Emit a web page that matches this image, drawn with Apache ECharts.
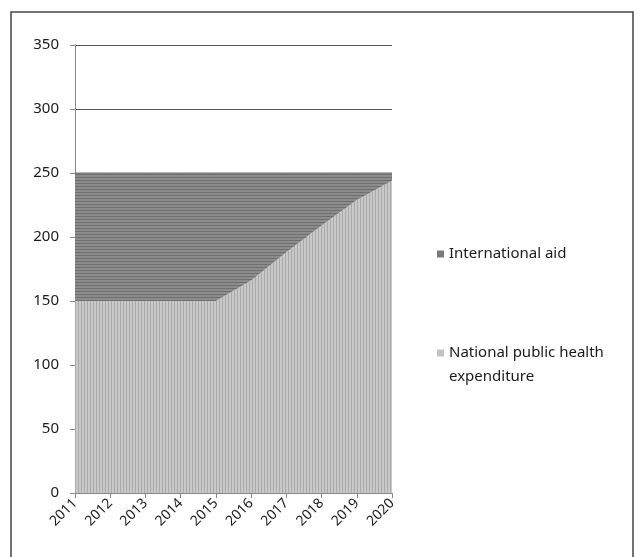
<!DOCTYPE html>
<html>
<head>
<meta charset="utf-8">
<script src="https://cdn.jsdelivr.net/npm/echarts@6/dist/echarts.min.js"></script>
<style>
  html, body { margin: 0; padding: 0; background: #fff; }
  #chart { width: 638px; height: 557px; }
</style>
</head>
<body>
<div id="chart"></div>
<script>
// data
var years = ["2011", "2012", "2013", "2014", "2015", "2016", "2017", "2018", "2019", "2020"];
var nationalSpend = [150, 150, 150, 150, 150, 166, 188, 209, 229, 244];
var internationalAid = [100, 100, 100, 100, 100, 84, 62, 41, 21, 6];
var yTicks = [0, 50, 100, 150, 200, 250, 300, 350];

// striped fills like the print version
function stripes(w, h, bg, fg, vertical) {
  var c = document.createElement("canvas");
  c.width = w;
  c.height = h;
  var ctx = c.getContext("2d");
  ctx.fillStyle = bg;
  ctx.fillRect(0, 0, w, h);
  ctx.fillStyle = fg;
  if (vertical) {
    ctx.fillRect(0, 0, 1, h);
  } else {
    ctx.fillRect(0, 0, w, 1);
  }
  return c;
}

var chart = echarts.init(document.getElementById("chart"));

var legendText = {
  color: "#1a1a1a",
  fontSize: 15,
  lineHeight: 24
};

var option = {
  animation: false,
  textStyle: { fontFamily: "Noto Sans" },
  graphic: [
    {
      type: "rect",
      shape: { x: 11, y: 12, width: 622, height: 560 },
      style: { fill: "none", stroke: "#444", lineWidth: 1.5 },
      silent: true
    }
  ],
  legend: [
    {
      orient: "vertical",
      left: 432,
      top: 237,
      itemWidth: 7,
      itemHeight: 7,
      icon: "rect",
      data: ["International aid"],
      textStyle: legendText
    },
    {
      orient: "vertical",
      left: 432,
      top: 312,
      itemWidth: 7,
      itemHeight: 7,
      icon: "rect",
      data: ["National public health expenditure"],
      // blank first line so the icon sits beside the first real line
      formatter: function() {
        return " \nNational public health\nexpenditure";
      },
      textStyle: legendText
    }
  ],
  grid: {
    left: 75,
    right: 246,
    top: 45,
    bottom: 64,
    containLabel: false
  },
  xAxis: {
    type: "category",
    data: years,
    boundaryGap: false,
    axisLine: { lineStyle: { color: "#888", width: 1 } },
    axisTick: { show: true, length: 5, alignWithLabel: true, lineStyle: { color: "#888" } },
    axisLabel: {
      rotate: 45,
      color: "#1a1a1a",
      fontSize: 14,
      margin: 8,
      interval: 0
    },
    splitLine: { show: false }
  },
  yAxis: {
    type: "value",
    min: 0,
    max: 350,
    interval: 50,
    axisLine: { show: true, lineStyle: { color: "#888", width: 1 } },
    axisTick: { show: true, length: 5, lineStyle: { color: "#888" } },
    axisLabel: {
      color: "#1a1a1a",
      fontSize: 15,
      margin: 16,
      formatter: function(v) {
        return yTicks.indexOf(v) >= 0 ? String(v) : "";
      }
    },
    splitLine: { show: true, lineStyle: { color: "#555", width: 1 } }
  },
  series: [
    {
      name: "National public health expenditure",
      type: "line",
      stack: "total",
      data: nationalSpend,
      symbol: "none",
      lineStyle: { width: 0 },
      itemStyle: { color: "#c4c4c4" },
      areaStyle: {
        opacity: 1,
        color: { image: stripes(3, 4, "#c9c9c9", "#a9a9a9", true), repeat: "repeat" }
      }
    },
    {
      name: "International aid",
      type: "line",
      stack: "total",
      data: internationalAid,
      symbol: "none",
      lineStyle: { width: 1, color: "#6e6e6e" },
      itemStyle: { color: "#7a7a7a" },
      areaStyle: {
        opacity: 1,
        color: { image: stripes(4, 3, "#8c8c8c", "#6f6f6f", false), repeat: "repeat" }
      }
    }
  ]
};

chart.setOption(option);
</script>
</body>
</html>
